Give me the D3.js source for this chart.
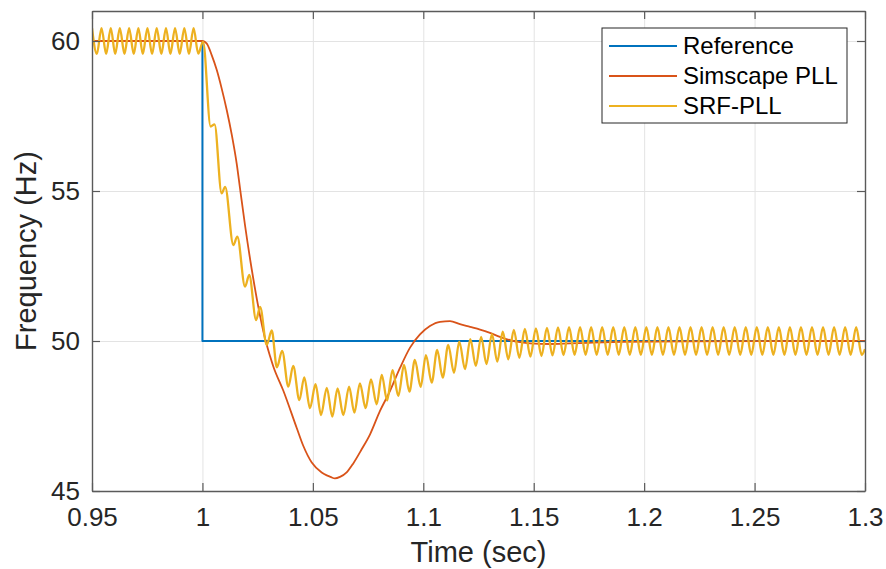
<!DOCTYPE html>
<html>
<head>
<meta charset="utf-8">
<script src="https://cdn.jsdelivr.net/npm/d3@7"></script>
<style>
  html, body { margin: 0; padding: 0; background: #fff; }
  svg { display: block; font-family: "Liberation Sans", Arial, Helvetica, sans-serif; }
</style>
</head>
<body>
<svg id="chart" width="886" height="569"></svg>
<script>
// ---------------- data ----------------
const xTicks = [0.95, 1, 1.05, 1.1, 1.15, 1.2, 1.25, 1.3];
const xTickLabels = ["0.95", "1", "1.05", "1.1", "1.15", "1.2", "1.25", "1.3"];
const yTicks = [45, 50, 55, 60];
const yTickLabels = ["45", "50", "55", "60"];
const seriesNames = ["Reference", "Simscape PLL", "SRF-PLL"];
const seriesColors = ["#0072BD", "#D95319", "#EDB120"];

// Reference: step 60 Hz -> 50 Hz at t = 1 s
const refTime = [0.95, 1.0, 1.0, 1.3];
const refFreq = [60, 60, 50, 50];

// Simscape PLL
const pllTime = [0.95, 1.0, 1.0019, 1.0042, 1.0065, 1.0087, 1.011, 1.0133, 1.0155, 1.017, 1.0193, 1.0223,
  1.0253, 1.0283, 1.0306, 1.0321, 1.0366, 1.0427, 1.0457, 1.0495, 1.054, 1.0563, 1.058, 1.06, 1.0623,
  1.0653, 1.0683, 1.0721, 1.0759, 1.0804, 1.0849, 1.0895, 1.094, 1.0985, 1.103, 1.1076, 1.1121, 1.1166,
  1.1212, 1.1257, 1.1302, 1.1347, 1.1393, 1.1438, 1.1483, 1.1574, 1.1664, 1.1746, 1.19, 1.22, 1.3];
const pllFreq = [60, 60, 59.92, 59.53, 59.03, 58.42, 57.7, 56.87, 55.92, 55.1, 53.85, 52.4,
  51.14, 50.1, 49.5, 49.15, 48.35, 47.1, 46.5, 45.95, 45.62, 45.52, 45.47, 45.42, 45.47,
  45.62, 45.92, 46.39, 46.89, 47.67, 48.33, 49.11, 49.78, 50.22, 50.5, 50.64, 50.66, 50.56,
  50.47, 50.38, 50.27, 50.14, 50.03, 49.96, 49.92, 49.9, 49.92, 49.94, 49.97, 49.99, 50.0];

// SRF-PLL (extrema of the ripple)
const srfTime = [0.95, 0.9522, 0.9543, 0.9564, 0.9585, 0.9605, 0.9626, 0.9647, 0.9668, 0.9689, 0.971, 0.973,
  0.9751, 0.9772, 0.9793, 0.9814, 0.9835, 0.9855, 0.9876, 0.9897, 0.9918, 0.9939, 0.996, 0.9981, 1.0003,
  1.0037, 1.0055, 1.0087, 1.0103, 1.014, 1.0158, 1.0193, 1.0212, 1.0243, 1.0261, 1.0291, 1.0314,
  1.0337, 1.0361, 1.0389, 1.0411, 1.0439, 1.0461, 1.0487, 1.0512, 1.0537, 1.0563, 1.0588, 1.0612,
  1.0638, 1.0664, 1.0688, 1.0713, 1.0739, 1.0763, 1.0789, 1.0812, 1.0836, 1.0861, 1.0887, 1.0913,
  1.0937, 1.0962, 1.0988, 1.1012, 1.1038, 1.1063, 1.1088, 1.1113, 1.1139, 1.1163, 1.1189, 1.1213,
  1.1238, 1.1262, 1.1286, 1.1311, 1.1335, 1.136, 1.1385, 1.141, 1.1435, 1.146, 1.1485, 1.151,
  1.1535, 1.156, 1.1585, 1.161, 1.1635, 1.166, 1.1685, 1.171, 1.1735, 1.176, 1.1785, 1.181, 1.1835,
  1.186, 1.1885, 1.191, 1.1935, 1.196, 1.1985, 1.201, 1.2035, 1.206, 1.2085, 1.211, 1.2135, 1.216,
  1.2185, 1.221, 1.2235, 1.226, 1.2285, 1.231, 1.2335, 1.236, 1.2385, 1.241, 1.2435, 1.246, 1.2485,
  1.251, 1.2535, 1.256, 1.2585, 1.261, 1.2635, 1.266, 1.2685, 1.271, 1.2735, 1.276, 1.2785, 1.281,
  1.2835, 1.286, 1.2885, 1.291, 1.2935, 1.296, 1.2985, 1.3];
const srfFreq = [60.43, 59.57, 60.43, 59.57, 60.43, 59.57, 60.43, 59.57, 60.43, 59.57, 60.43, 59.57,
  60.43, 59.57, 60.43, 59.57, 60.43, 59.57, 60.43, 59.57, 60.43, 59.57, 60.43, 59.58, 59.98,
  57.15, 57.22, 54.92, 55.14, 53.2, 53.48, 51.81, 52.2, 50.7, 51.14, 49.87, 50.35,
  49.12, 49.67, 48.48, 49.17, 48.03, 48.79, 47.76, 48.56, 47.53, 48.44, 47.48, 48.42,
  47.53, 48.48, 47.61, 48.59, 47.76, 48.72, 47.89, 48.87, 48.02, 49.03, 48.17, 49.2,
  48.31, 49.37, 48.47, 49.53, 48.61, 49.7, 48.78, 49.87, 48.94, 49.98, 49.06, 50.06,
  49.17, 50.14, 49.23, 50.23, 49.31, 50.31, 49.39, 50.37, 49.44, 50.4, 49.48, 50.42,
  49.5, 50.44, 49.52, 50.45, 49.53, 50.46, 49.54, 50.46, 49.54, 50.46, 49.54, 50.46, 49.54,
  50.46, 49.54, 50.46, 49.54, 50.46, 49.54, 50.46, 49.54, 50.46, 49.54, 50.46, 49.54, 50.46,
  49.54, 50.46, 49.54, 50.46, 49.54, 50.46, 49.54, 50.46, 49.54, 50.46, 49.54, 50.46, 49.54,
  50.46, 49.54, 50.46, 49.54, 50.46, 49.54, 50.46, 49.54, 50.46, 49.54, 50.46, 49.54, 50.46,
  49.54, 50.46, 49.54, 50.46, 49.54, 50.46, 49.54, 49.73];

// ---------------- layout ----------------
const W = 886, H = 569;
const margin = { left: 92, right: 21, top: 11, bottom: 78 };
const pw = W - margin.left - margin.right;
const ph = H - margin.top - margin.bottom;
const axisColor = "#5a5a5a";
const textColor = "#262626";

const svg = d3.select("#chart");
const g = svg.append("g").attr("transform", `translate(${margin.left},${margin.top})`);

const x = d3.scaleLinear().domain([0.95, 1.3]).range([0, pw]);
const y = d3.scaleLinear().domain([45, 61]).range([ph, 0]);

// grid
const gx = g.append("g").attr("transform", `translate(0,${ph})`)
  .call(d3.axisBottom(x).tickValues(xTicks).tickSize(-ph).tickFormat(""));
gx.select(".domain").remove();
gx.selectAll("line").attr("stroke", "#e3e3e3").attr("stroke-width", 1);
const gy = g.append("g")
  .call(d3.axisLeft(y).tickValues(yTicks).tickSize(-pw).tickFormat(""));
gy.select(".domain").remove();
gy.selectAll("line").attr("stroke", "#e3e3e3").attr("stroke-width", 1);

// clip
svg.append("defs").append("clipPath").attr("id", "clip")
  .append("rect").attr("width", pw).attr("height", ph);
const plot = g.append("g").attr("clip-path", "url(#clip)");

function drawSeries(times, vals, color, width, curve) {
  const pts = times.map((t, i) => [t, vals[i]]);
  const line = d3.line().x(d => x(d[0])).y(d => y(d[1])).curve(curve);
  plot.append("path").datum(pts)
    .attr("fill", "none").attr("stroke", color).attr("stroke-width", width)
    .attr("stroke-linejoin", "round").attr("d", line);
}
drawSeries(refTime, refFreq, seriesColors[0], 2, d3.curveLinear);
drawSeries(pllTime, pllFreq, seriesColors[1], 1.8, d3.curveMonotoneX);
drawSeries(srfTime, srfFreq, seriesColors[2], 2.3, d3.curveMonotoneX);

// axes (box with inward ticks on all sides)
function styleAxis(sel) {
  sel.select(".domain").attr("stroke", axisColor).attr("stroke-width", 1.4);
  sel.selectAll(".tick line").attr("stroke", axisColor).attr("stroke-width", 1.2);
  sel.selectAll(".tick text").attr("fill", textColor).style("font-size", "26px");
}
const xb = g.append("g").attr("transform", `translate(0,${ph})`)
  .call(d3.axisBottom(x).tickValues(xTicks).tickFormat((d, i) => xTickLabels[i])
    .tickSizeInner(-8).tickSizeOuter(0).tickPadding(17));
styleAxis(xb);
const xt = g.append("g")
  .call(d3.axisTop(x).tickValues(xTicks).tickFormat("").tickSizeInner(-8).tickSizeOuter(0));
styleAxis(xt);
const yl = g.append("g")
  .call(d3.axisLeft(y).tickValues(yTicks).tickFormat((d, i) => yTickLabels[i])
    .tickSizeInner(-8).tickSizeOuter(0).tickPadding(12));
styleAxis(yl);
const yr = g.append("g").attr("transform", `translate(${pw},0)`)
  .call(d3.axisRight(y).tickValues(yTicks).tickFormat("").tickSizeInner(-8).tickSizeOuter(0));
styleAxis(yr);

// axis labels
svg.append("text").attr("x", margin.left + pw / 2).attr("y", 562)
  .attr("text-anchor", "middle").attr("fill", textColor).style("font-size", "29px")
  .text("Time (sec)");
svg.append("text").attr("transform", `translate(36,${margin.top + ph / 2}) rotate(-90)`)
  .attr("text-anchor", "middle").attr("fill", textColor).style("font-size", "29px")
  .text("Frequency (Hz)");

// legend
const leg = svg.append("g").attr("transform", "translate(602,28)");
leg.append("rect").attr("width", 245).attr("height", 95)
  .attr("fill", "#fff").attr("stroke", "#262626").attr("stroke-width", 1);
seriesNames.forEach((name, i) => {
  const yy = 18 + i * 30;
  leg.append("line").attr("x1", 7).attr("x2", 75).attr("y1", yy).attr("y2", yy)
    .attr("stroke", seriesColors[i]).attr("stroke-width", 2);
  leg.append("text").attr("x", 81).attr("y", yy).attr("dy", "0.35em")
    .attr("fill", "#000").style("font-size", "24px").text(name);
});
</script>
</body>
</html>
